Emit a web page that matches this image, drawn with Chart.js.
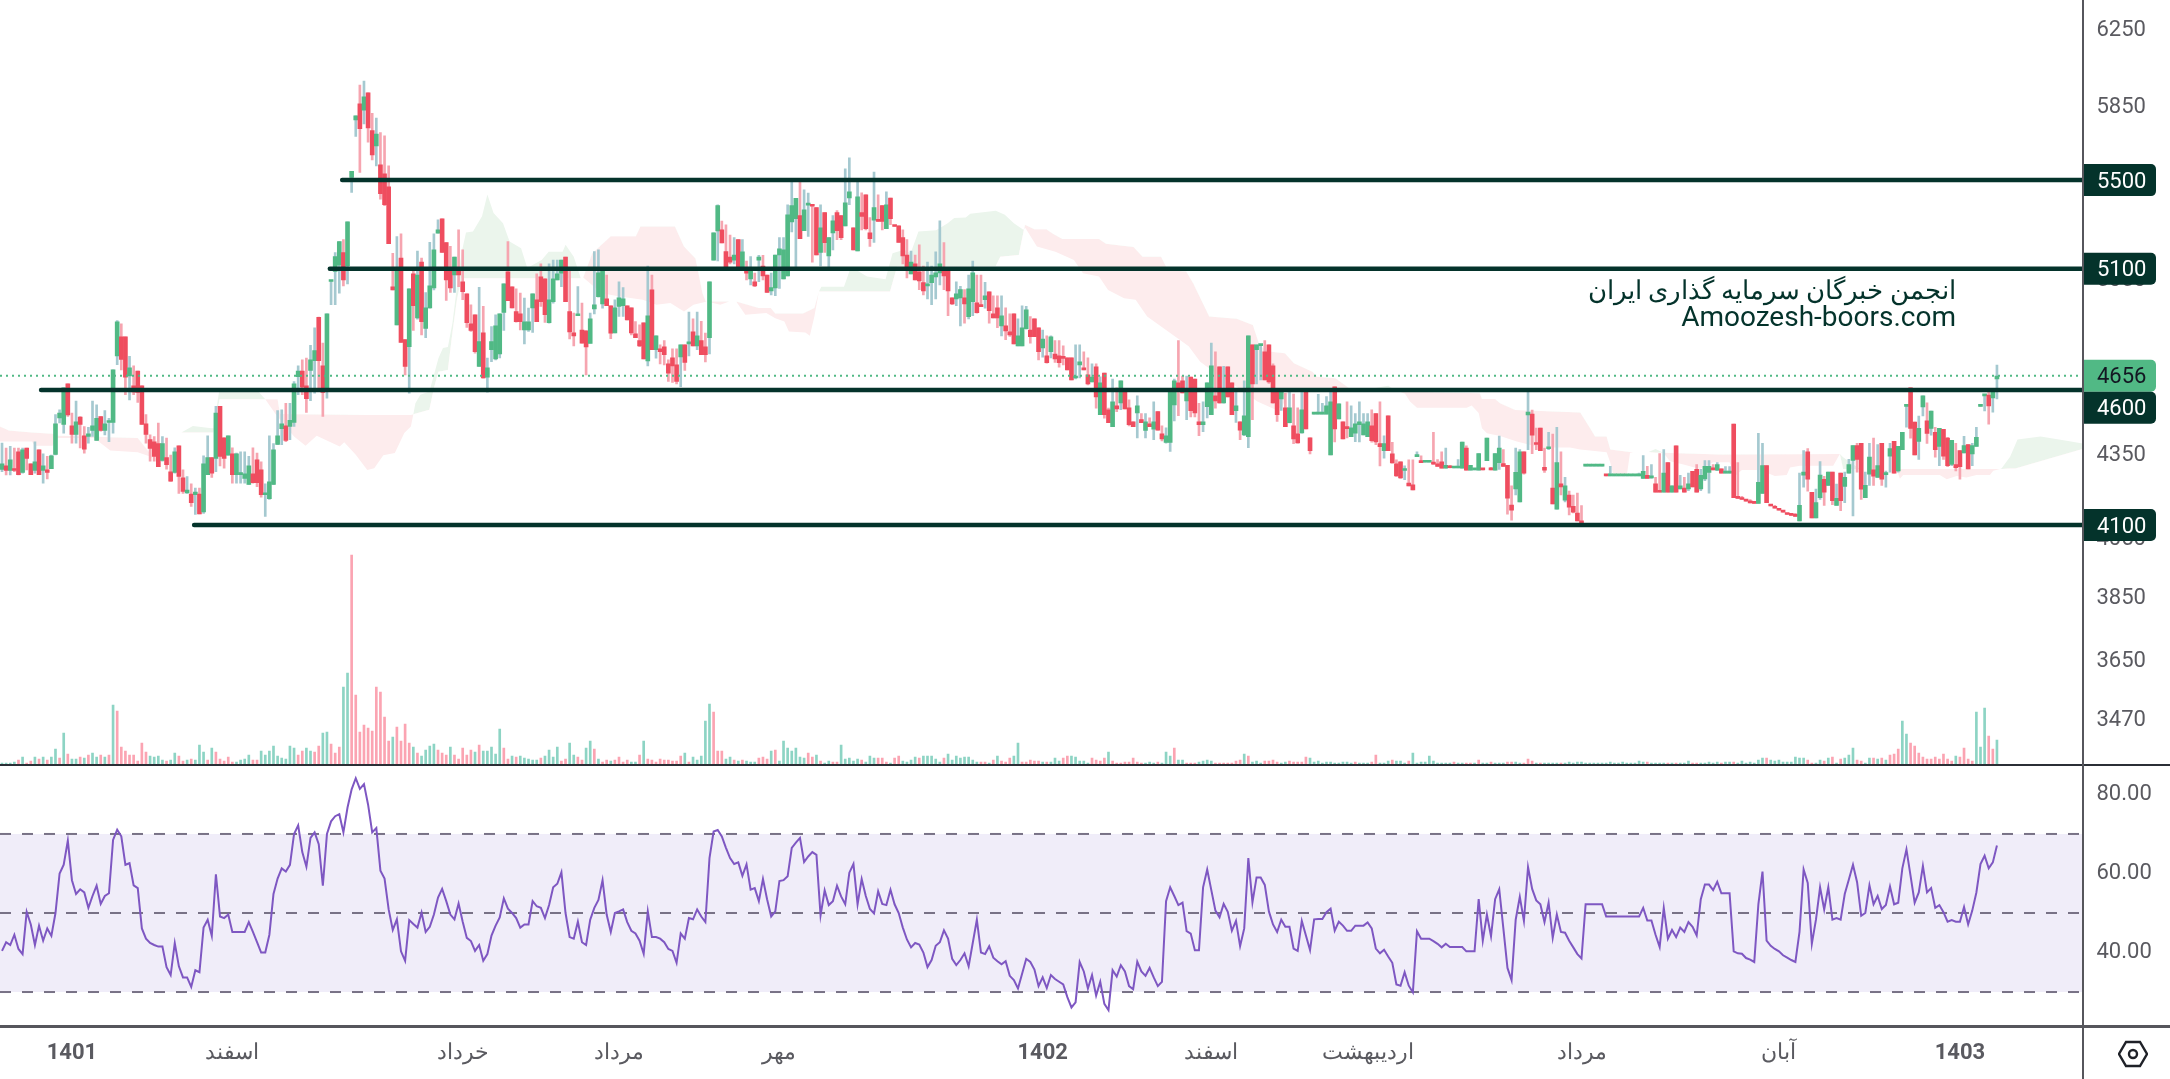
<!DOCTYPE html>
<html>
<head>
<meta charset="utf-8">
<script src="https://cdn.jsdelivr.net/npm/chart.js@4"></script>
<style>
  body { margin: 0; background: #fff; width: 2170px; height: 1079px; overflow: hidden; position: relative; font-family: Roboto, "Noto Sans", sans-serif; }
  canvas { position: absolute; left: 0; }
  .rule { position: absolute; }
  .mark { position: absolute; right: 214px; color: #04332b; white-space: nowrap; }
</style>
</head>
<body>
<canvas id="priceChart" width="2170" height="765" style="top:0"></canvas>
<canvas id="rsiChart" width="2170" height="313" style="top:766px"></canvas>
<div class="rule" style="left:0;top:764px;width:2170px;height:2px;background:#2b2f36"></div>
<div class="rule" style="left:0;top:1025px;width:2170px;height:3px;background:#56565c"></div>
<div class="rule" style="left:2082px;top:0;width:2px;height:1079px;background:#56565c"></div>
<div class="mark" dir="rtl" style="top:272px;font-size:26.4px;line-height:36px">انجمن خبرگان سرمایه گذاری ایران</div>
<div class="mark" style="top:301px;font-size:28px;line-height:32px">Amoozesh-boors.com</div>
<svg style="position:absolute;left:2118px;top:1040px" width="30" height="28" viewBox="0 0 30 28">
  <path d="M8 2 H22 L29 14 L22 26 H8 L1 14 Z" fill="none" stroke="#1f2128" stroke-width="2.4"/>
  <circle cx="15" cy="14" r="4" fill="none" stroke="#1f2128" stroke-width="2.4"/>
</svg>
<script>
const opens = [4299,4312,4295,4297,4364,4288,4378,4319,4295,4371,4295,4297,4302,4354,4492,4467,4624,4461,4429,4495,4424,4421,4444,4406,4497,4444,4474,4474,4735,4813,4813,4655,4616,4674,4616,4469,4409,4401,4394,4332,4342,4290,4288,4386,4268,4214,4209,4207,4209,4146,4280,4342,4339,4536,4416,4351,4356,4280,4280,4266,4244,4283,4334,4297,4207,4193,4244,4391,4451,4461,4459,4474,4652,4674,4616,4677,4716,4893,4695,4606,5045,5089,5116,5171,5112,5513,5789,5869,5838,5925,5737,5662,5572,5530,5469,5022,4862,5147,4801,4773,5078,4891,5129,4847,4933,5018,5257,5322,5215,5095,5073,5095,5044,4992,4866,4904,4693,4829,4650,4760,4723,4743,4914,5087,5022,4917,4908,4841,4841,4933,4967,5065,5056,4871,4959,5052,5081,5151,4917,4829,4900,4841,4837,4786,4929,4980,4950,4971,4942,4829,4939,4942,4942,4933,4825,4797,4871,4715,5009,4760,4764,4772,4703,4727,4699,4731,4780,4784,4833,4776,4797,4772,4809,5138,5267,
5272,5175,5151,5138,5228,5098,5102,5056,5044,5138,5112,5073,5005,5018,5160,5056,5069,5308,5322,5336,5268,5384,5386,5373,5172,5350,5156,5258,5350,5336,5290,5417,5281,5178,5350,5432,5258,5315,5318,5382,5277,5417,5290,5290,5237,5160,5078,5121,5087,5040,5026,5040,5065,5082,5099,5099,4975,4971,4975,4975,4896,4959,4954,4946,4967,5001,4908,4933,4858,4858,4833,4908,4776,4776,4846,4841,4887,4850,4768,4735,4752,4743,4735,4727,4727,4727,4647,4699,4683,4659,4631,4691,4504,4666,4523,4458,4538,4549,4592,4530,4477,4511,4485,4444,4469,4449,4516,4431,4399,4399,4542,4628,4636,4557,4651,4643,4477,4466,4535,4504,4577,4691,4549,4691,4628,4519,4477,4427,4420,4780,4760,4777,4752,4780,4695,4592,4565,4530,4473,4461,4431,4435,4592,4416,4506,4506,4506,4506,4352,4612,4488,4477,4454,4420,4434,4466,4427,4420,4461,4508,4394,4368,4500,4356,4319,4327,4295,4249,4243,
4346,4327,4325,4325,4320,4319,4327,4303,4307,4304,4304,4303,4378,4296,4297,4296,4299,4331,4299,4296,4324,4320,4314,4170,4228,4181,4364,4503,4506,4393,4453,4306,4375,4231,4156,4246,4188,4206,4166,4142,4112,4311,4311,4311,4311,4311,4277,4275,4275,4275,4275,4275,4275,4275,4275,4266,4277,4268,4246,4218,4216,4324,4216,4386,4228,4231,4228,4292,4299,4228,4264,4288,4299,4296,
4301,4285,4285,4468,4196,4193,4186,4182,4179,4176,4212,4313,4169,4161,4154,4147,4139,4136,4132,4114,4278,4364,4216,4125,4197,4263,4241,4289,4169,4285,4237,4285,4332,4387,4395,4197,4281,4297,4270,4395,4280,4348,4403,4293,4372,4536,4608,4476,4403,4534,4480,4452,4437,4384,4448,4415,4317,4317,4368,4360,4391,4356,4384,4536,4577,4580,4569,4643];
const highs = [4396,4378,4384,4378,4378,4378,4378,4319,4401,4371,4356,4347,4352,4504,4523,4608,4624,4510,4556,4497,4459,4456,4556,4542,4497,4520,4490,4679,4880,4866,4813,4733,4695,4674,4616,4504,4427,4421,4472,4421,4415,4352,4379,4386,4297,4273,4246,4231,4231,4349,4424,4342,4536,4536,4416,4424,4379,4359,4364,4364,4347,4379,4359,4327,4246,4424,4394,4520,4523,4548,4548,4633,4695,4719,4726,4778,4850,4894,4787,4908,5047,5171,5219,5228,5308,5541,5809,5964,5984,5925,5822,5798,5727,5711,5567,5168,5242,5254,4801,5014,5095,5177,5147,4998,5216,5254,5317,5322,5215,5198,5151,5272,5183,4992,4946,4904,5020,4939,4726,4855,4904,4908,5035,5219,5022,5014,4995,4974,4932,4992,5078,5121,5056,5121,5138,5138,5138,5151,5095,4911,5023,4953,4837,4911,5175,5183,5095,5073,4942,4967,5044,5019,4942,4933,4876,4862,4871,5112,5073,4817,4780,4797,4719,4764,4764,4780,4780,4915,4887,4915,4877,4828,5044,5258,5386,
5311,5295,5249,5237,5228,5228,5134,5153,5081,5159,5159,5073,5081,5160,5237,5237,5386,5500,5415,5491,5455,5440,5386,5373,5386,5350,5237,5336,5359,5336,5553,5605,5281,5491,5441,5432,5327,5538,5432,5382,5446,5417,5290,5290,5272,5228,5177,5160,5205,5112,5129,5112,5174,5313,5215,5091,4975,5044,5024,5010,5073,5134,5073,5073,5041,5001,4984,4984,4984,4933,4908,4908,4887,4942,4939,4896,4887,4850,4841,4817,4817,4797,4797,4776,4727,4727,4780,4780,4752,4727,4703,4703,4652,4666,4529,4643,4608,4636,4592,4561,4477,4577,4508,4508,4492,4554,4516,4461,4454,4600,4643,4797,4655,4655,4651,4643,4548,4554,4628,4787,4752,4691,4693,4691,4628,4600,4477,4636,4817,4780,4780,4780,4797,4780,4703,4600,4600,4587,4600,4584,4530,4600,4600,4416,4508,4583,4548,4574,4600,4612,4546,4477,4554,4538,4508,4554,4508,4508,4523,4508,4554,4424,4500,4399,4334,4327,4312,4334,4334,
4364,4349,4327,4327,4437,4335,4364,4378,4314,4306,4335,4400,4386,4314,4299,4357,4299,4415,4306,4357,4423,4372,4314,4239,4378,4372,4364,4600,4522,4453,4453,4378,4437,4430,4456,4364,4270,4220,4206,4213,4168,4313,4313,4313,4313,4313,4277,4310,4277,4277,4277,4277,4277,4277,4285,4350,4310,4317,4270,4357,4372,4324,4239,4386,4277,4270,4285,4292,4317,4299,4331,4331,4317,4324,
4301,4309,4309,4468,4324,4201,4190,4190,4179,4433,4395,4313,4169,4169,4154,4147,4139,4136,4141,4285,4368,4376,4216,4227,4328,4274,4289,4289,4245,4285,4289,4336,4387,4395,4395,4289,4395,4415,4391,4395,4293,4395,4403,4384,4437,4538,4608,4476,4499,4577,4550,4518,4456,4452,4448,4418,4407,4395,4368,4422,4391,4395,4456,4538,4579,4600,4596,4698];
const lows = [4291,4279,4279,4291,4279,4285,4297,4280,4285,4280,4249,4264,4302,4352,4472,4434,4497,4396,4396,4378,4359,4396,4421,4406,4441,4427,4402,4434,4700,4679,4581,4561,4581,4551,4467,4396,4329,4329,4312,4329,4300,4255,4285,4212,4212,4212,4165,4137,4139,4141,4291,4270,4291,4312,4303,4351,4249,4249,4249,4249,4243,4249,4236,4198,4130,4190,4243,4390,4390,4402,4409,4459,4581,4581,4513,4558,4587,4600,4497,4568,4946,4946,4995,5026,5035,5443,5708,5536,5770,5681,5595,5567,5412,5382,5210,5009,4862,4790,4659,4587,4839,4886,4821,4809,4932,5009,5257,5171,4964,4998,4998,5023,4967,4851,4835,4746,4693,4646,4591,4712,4719,4727,4839,4963,4933,4873,4841,4784,4835,4831,4875,4939,4872,4869,4953,5052,5023,4959,4804,4776,4900,4787,4659,4787,4908,4978,4932,4942,4805,4829,4897,4897,4883,4821,4809,4773,4723,4695,4760,4726,4703,4699,4633,4629,4624,4613,4677,4735,4776,4760,4740,4711,4743,5138,5134,
5213,5109,5121,5121,5095,5095,5052,5030,5023,5044,5052,4998,4988,4984,5015,5056,5069,5263,5100,5232,5268,5243,5129,5160,5112,5172,5103,5183,5228,5228,5290,5386,5183,5178,5272,5272,5198,5216,5310,5272,5277,5295,5287,5216,5121,5060,5078,5052,5010,4988,4971,4946,4971,5030,5010,4900,4946,4942,4858,4869,4887,4900,4911,4938,4932,4869,4891,4850,4817,4801,4814,4784,4776,4776,4844,4787,4813,4719,4730,4706,4727,4709,4690,4699,4679,4639,4643,4647,4679,4620,4631,4529,4504,4491,4473,4458,4516,4523,4526,4461,4458,4416,4473,4416,4458,4409,4445,4404,4396,4365,4480,4500,4588,4485,4495,4495,4424,4439,4492,4504,4529,4548,4548,4573,4504,4474,4409,4424,4379,4485,4624,4639,4639,4626,4548,4478,4520,4459,4472,4394,4396,4434,4450,4356,4506,4506,4506,4506,4352,4401,4488,4412,4416,4420,4402,4401,4427,4420,4400,4390,4312,4340,4368,4322,4273,4266,4261,4239,4224,
4346,4324,4325,4325,4317,4310,4303,4303,4304,4304,4304,4303,4296,4296,4297,4296,4297,4331,4297,4296,4299,4310,4138,4117,4206,4181,4281,4372,4357,4372,4368,4288,4372,4174,4156,4206,4181,4135,4142,4114,4108,4311,4311,4311,4311,4311,4275,4275,4275,4275,4275,4275,4275,4275,4275,4266,4266,4266,4216,4216,4216,4216,4216,4216,4228,4216,4222,4235,4216,4222,4258,4213,4297,4294,
4285,4285,4285,4197,4194,4190,4184,4178,4176,4176,4212,4179,4167,4159,4152,4145,4137,4134,4130,4114,4234,4220,4125,4125,4190,4169,4241,4172,4169,4150,4179,4285,4132,4289,4190,4197,4241,4241,4270,4241,4234,4289,4285,4289,4372,4456,4415,4352,4336,4499,4395,4426,4344,4313,4336,4309,4313,4293,4263,4360,4301,4313,4384,4536,4518,4468,4514,4565];
const closes = [4319,4295,4334,4295,4280,4371,4339,4280,4327,4280,4312,4288,4349,4469,4510,4608,4503,4429,4477,4467,4374,4431,4461,4490,4444,4469,4479,4679,4875,4721,4650,4687,4592,4590,4467,4429,4376,4347,4309,4394,4316,4256,4364,4273,4219,4224,4179,4217,4139,4319,4342,4285,4510,4347,4339,4424,4280,4356,4283,4283,4312,4251,4251,4207,4209,4254,4371,4424,4469,4406,4482,4624,4674,4611,4566,4719,4757,4716,4590,4908,5047,5153,5219,5052,5308,5541,5809,5747,5905,5750,5619,5720,5437,5386,5210,5009,5095,4790,4693,5014,4942,5073,4875,4933,5026,5183,5272,5171,5052,5018,5151,5073,5001,4871,4839,4752,4793,4647,4687,4793,4858,4908,5035,4963,4933,4875,4875,4875,4875,4992,4875,4959,4904,4967,5056,5078,5138,4959,4833,4817,4904,4787,4772,4887,4946,5082,5095,4942,4828,4933,4975,4971,4883,4829,4809,4776,4723,4900,4760,4817,4752,4740,4666,4695,4633,4780,4709,4787,4776,4817,4740,4740,5044,5258,5382,
5213,5109,5129,5160,5106,5174,5081,5091,5026,5151,5069,4998,5019,5160,5187,5183,5340,5382,5415,5232,5363,5386,5379,5160,5281,5215,5237,5313,5268,5237,5395,5446,5183,5422,5332,5277,5232,5373,5310,5310,5386,5322,5287,5216,5156,5108,5129,5052,5048,5005,5029,5073,5082,5121,5069,5005,4950,4992,5010,4950,5014,5082,4913,4938,4984,4921,4891,4891,4900,4837,4821,4784,4817,4850,4925,4813,4813,4752,4804,4708,4813,4723,4708,4725,4679,4639,4651,4711,4679,4624,4651,4573,4628,4504,4473,4554,4526,4636,4526,4466,4458,4538,4473,4477,4458,4477,4445,4412,4424,4600,4636,4608,4588,4600,4519,4511,4466,4477,4628,4695,4557,4549,4600,4573,4504,4538,4445,4500,4817,4624,4780,4780,4639,4631,4549,4504,4592,4458,4530,4412,4397,4523,4450,4368,4508,4508,4508,4538,4554,4450,4546,4412,4451,4454,4469,4477,4469,4477,4405,4401,4383,4394,4368,4323,4275,4268,4297,4239,4224,
4350,4324,4327,4327,4318,4310,4303,4314,4305,4306,4306,4400,4296,4314,4299,4357,4297,4415,4297,4357,4378,4310,4195,4152,4288,4364,4285,4514,4426,4391,4368,4296,4377,4174,4324,4235,4239,4163,4145,4114,4108,4313,4313,4313,4313,4313,4275,4277,4277,4277,4277,4277,4277,4277,4277,4292,4266,4270,4216,4216,4285,4216,4239,4216,4239,4216,4246,4235,4216,4277,4310,4310,4297,4317,
4285,4287,4287,4197,4194,4190,4184,4178,4176,4252,4313,4179,4167,4159,4152,4145,4137,4134,4130,4169,4289,4263,4125,4179,4278,4216,4289,4186,4194,4186,4270,4317,4387,4336,4227,4241,4344,4274,4313,4263,4282,4376,4285,4384,4437,4538,4452,4352,4452,4577,4433,4518,4372,4452,4348,4313,4407,4305,4309,4387,4301,4387,4418,4538,4579,4538,4596,4655];
const volumes = [2,2,2,3,-5,8,-2,-4,8,-6,8,-5,8,16,-7,32,-11,6,6,-8,7,-10,12,8,-10,8,-10,60,-54,-18,-14,-10,-10,-4,-22,-13,9,8,9,5,-4,5,12,-9,-4,5,-6,5,20,13,-5,17,-13,-6,-4,-8,-3,3,5,6,10,-5,-5,14,10,14,19,9,7,6,19,17,-10,-14,17,14,-13,-19,32,33,-21,-12,-18,78,92,-210,-70,-33,-40,-37,-34,-78,-73,-48,-24,28,-38,-24,-41,-22,18,-12,9,15,19,21,-15,-12,-10,18,-10,-6,-17,-10,-15,13,-20,14,14,18,11,
36,-17,-6,9,-8,9,7,6,5,5,-7,9,15,8,18,-4,-6,22,10,-8,-5,17,24,-16,6,-3,-5,4,-5,-8,-3,-5,3,3,-10,24,-6,-5,-3,-6,-5,-5,-4,-4,-9,12,-3,8,5,9,44,61,-53,
-14,-14,6,8,-5,4,-5,4,3,3,-7,-8,-6,14,-15,4,24,17,14,17,8,7,-12,-8,10,-4,2,4,-3,-3,20,6,7,4,6,-5,3,9,7,-7,-7,-3,2,-7,-9,4,3,5,8,-7,9,9,9,6,3,-7,11,5,9,7,8,8,5,3,-3,-3,2,-5,9,-4,-3,-7,9,22,-3,-3,-5,-4,-4,3,-3,3,7,4,-7,-9,9,8,4,4,2,-7,-5,-4,-7,13,-4,-2,-2,-3,-3,-7,-3,-2,2,3,2,-3,2,13,9,-17,5,5,-2,-2,-2,3,4,5,4,-2,-2,-2,-2,-2,-4,-5,11,-9,3,4,2,-4,-4,-5,-3,2,3,-4,-3,-3,-3,-8,7,3,4,2,3,3,2,2,3,3,2,-3,2,2,2,-3,-10,2,2,4,-5,4,4,2,-4,12,2,3,3,9,4,
2,2,2,2,-3,2,2,-2,-2,2,-5,2,2,-3,2,2,
2,-3,-3,3,2,-2,-6,-4,2,-2,2,2,2,2,-2,2,3,2,3,3,2,2,2,2,2,2,3,2,2,3,2,2,2,4,3,-3,2,2,2,2,-2,2,-2,2,2,4,-2,-2,2,2,3,2,3,-2,3,3,-3,2,4,2,3,2,5,7,-7,5,4,5,3,3,3,8,7,7,-5,-2,2,5,-4,7,-8,2,-6,7,10,17,-5,-4,2,7,-7,6,-7,5,-10,-11,-16,44,31,-22,-19,-12,-8,-6,-6,-8,-6,-11,-6,-4,9,-8,-17,-6,-4,53,18,57,-29,-16,25];
const rsi = [40.4,42.6,41.9,44.5,40.9,39.6,50.3,47.1,41.9,46.8,43,46.1,44.2,50,60,62.2,68.3,58.3,54.8,56,55.2,51.3,54.3,56.9,52.3,54.3,55,68.5,71.1,69.4,62.2,62.6,57,56.3,46.1,43.5,42.4,41.9,41.5,41.5,36.3,34.3,42.4,36.5,33.7,33.7,31.3,35.5,35,46.3,48.3,44.2,59.8,49.1,48.7,49.6,45.2,45.2,45.2,45.2,47.7,45.2,42.6,40,40,44.5,54.8,58.7,61.3,60.5,62.2,70,72.2,65.4,61.7,69,70.4,67.4,56.9,70,73.2,74.5,75,70.4,76.7,81.3,84.1,81.4,82.6,77.4,70.4,71.5,60.7,58.7,50.9,45.7,48.4,40.3,37.9,48.2,47.2,46.3,50.1,45.2,46.5,49.6,53.9,56.1,53,49.6,48.4,52.4,47.8,43.7,42.9,40.4,41.9,37.9,39.6,44.3,46.8,48.9,53.7,51.1,50,48.7,46.3,47.1,47.1,53,51.7,51.3,48.7,52,56.5,57.4,60.3,50,43.9,43.5,47.8,42.6,41.9,48.3,51.3,53.3,58.3,49.6,45.2,50,50.4,50.9,47.7,45.5,44.8,43,39.7,50.4,43.9,43.9,43.5,42.6,40.9,40.4,37.4,44.8,43.5,48.7,48.4,50.9,49.1,47.7,63.9,70.6,71,
69.4,66.5,63.9,62.4,62.8,59.4,62.3,55.9,56.3,53,58.6,53.5,49.1,50.4,58.1,58.3,59.3,66.5,67.8,69,62.9,64.3,65.4,64.7,49.4,55.7,52,53,56.9,54.2,52.2,60.2,62.4,52.2,58.6,54.3,51,49.9,55.5,52.3,52,55.9,52.2,50,46.3,43.3,41.3,42.4,42,40,36.3,38.1,41.7,42.6,45.6,43.5,38.4,36.8,38.1,39.8,36.5,42.4,48.3,40,39.6,41.6,38.7,37.8,37,37.8,34.1,33,30.9,34.6,38.4,37.6,35.7,31.5,33.7,31,34.3,33.3,32.6,31.9,28.7,26.1,27.4,37.6,35.2,30.9,34.3,29.1,32.6,27,25.4,35.5,33.9,36.8,35.2,31.5,30.7,37.7,35.2,34.1,36.1,33.7,31.5,32.6,53,56.5,54.3,52,52.6,45.4,44.8,40.6,40.6,56.5,61,55.8,50.6,48.9,52.3,50.3,45.5,48,41.6,46.1,63.9,52.7,59,59,57.1,50.4,47.1,45.2,48.3,46.5,46.5,41,40.4,48,44.3,40.6,48.4,48.5,48.5,50.2,51.1,45.5,47.8,46.8,45.5,45.5,46.8,46.8,46.8,47.6,46.1,41,39.8,40.7,39,37.4,31.9,31.6,35,31.6,29.9,45.4,43.5,43.5,43.5,42.9,42.2,
41.3,42.2,41.4,41.4,41.4,41.4,40.3,40.3,40.3,53.5,43,49.6,44.1,53.5,56,46.1,36.1,33,48.3,54.1,48,61.6,56.1,53.2,52.2,47.7,52.6,43.7,49.6,45.2,45,43,41.3,39.6,38.5,52.2,52.2,52.2,52.2,52.2,49.1,49.1,49.1,49.1,49.1,49.1,49.1,49.1,49.1,51.3,48.1,48.1,44.5,41.4,51.3,43.5,45.7,43.9,46.3,45.2,47.7,46.5,44.3,53.5,57.2,57.2,55.8,57.9,55,55,55,40.3,39.8,39.7,38.6,38.2,37.6,52.2,60.5,43,41.7,40.9,40.3,39.3,38.7,38.1,37.6,45.2,61,57.6,42.2,48.3,56.5,50.9,56.5,48.3,48.7,48.3,54.8,58.5,62.2,57.8,49.3,50,57,52.2,54.3,51,52,56.7,52.2,52.6,61.3,66.1,59.4,52.6,55.2,61.9,55.2,56.3,51.3,52,50.2,47.8,48.2,47.8,47.8,51.5,47.1,50.6,55.2,62.4,64.5,61.3,62.8,67.1];

// ichimoku cloud, knots are bar positions
const spanAx = [-0.5,1.7,7.3,7.9,12.3,13.5,22.4,26.3,33,35.8,36.6,43.6,46.4,50.9,51.4,52.9,62,64,66.5,71,73.8,76.5,82.1,83.2,86,88.8,90.5,92.7,95.5,97.8,99.4,100,100.5,101.7,103.9,105,106.1,107.2,108.4,109.5,110.6,111.7,112.8,114.5,116.7,118,119.5,121.8,123.4,126.2,127.7,131.2,132.9,136.3,137,139,140.7,141.3,145.8,150.2,155.8,159.1,162.5,165.8,168.1,171.4,174.6,176.8,178.5,180.7,185.8,188,190.2,191.3,195.3,196.4,197.5,198.6,199.2,204.7,206.4,210.3,214.8,216.5,219.3,220.9,222.8,227.1,229.9,231.5,234.3,235.4,241.6,243.8,246,248.3,248.8,251.6,256.1,260.6,262.8,266.7,268.9,272.8,275.6,278.4,284.6,288.5,291.3,294.6,300.7,305.2,309.7,311.3,313,328.1,330.9,337,338.7,341.1,342.3,344,356.1,357.3,359,359.8,361,364.2,368.3,374,381.2,383.7,390.1,391,391.8,395,395.8,396.6,400.3,402,403.9,405.5,408.8,412.8,416,420,421.3,423,427.4,431,433.9,434.7,437.1,445.2,446.8,447.6,451.7,460.6,461.4,462.2,471.1,472.8,475.2,477.6,480,483.3,484.1,485.7,486.1,488.2,490,495.6,502.3,505.8];
const spanA = [4402,4402,4402,4386,4386,4415,4415,4369,4362,4347,4340,4436,4461,4452,4452,4607,4600,4564,4507,4421,4386,4424,4384,4399,4353,4297,4303,4351,4359,4434,4459,4506,4548,4581,4594,4659,4726,4767,4771,4869,5023,5168,5260,5265,5333,5433,5348,5302,5220,5190,5103,5138,5175,5175,5205,5153,5059,5062,4995,4981,4967,4946,4953,4918,4946,4960,4946,4960,4960,4904,4911,4890,4876,4835,4831,4817,4897,5002,5023,5023,5109,5066,5055,5168,5183,5168,5265,5270,5302,5325,5328,5345,5358,5340,5302,5272,5280,5198,5175,5138,5081,5066,5009,4974,4967,4897,4821,4774,4712,4672,4607,4555,4523,4536,4600,4600,4600,4616,4600,4585,4555,4531,4531,4539,4510,4452,4433,4423,4402,4380,4380,4372,4362,4324,4276,4276,4360,4363,4363,4374,4360,4329,4317,4300,4325,4325,4275,4297,4297,4275,4278,4306,4312,4312,4356,4344,4300,4300,4265,4278,4278,4263,4275,4269,4278,4278,4294,4300,4302,4345,4410,4421,4404,4395];
const spanBx = [-0.5,1.7,7.3,12.3,13.5,22.4,26.3,33,35.8,36.6,43.6,46.4,51.4,52.9,62,64,66.5,67,67.6,88.8,99.4,100,103.9,105,106.1,108.4,109.5,110.6,111.7,140.7,141.3,143.5,148,154.1,155.2,163.6,165.8,168.6,170.3,171.1,174.6,178.5,184,186.9,188,194.7,197.5,198.6,199.2,215.9,217.6,241.6,242.7,247.2,248.7,251,253.9,255.5,257.8,266.7,268.4,275.1,277.3,281.8,283.4,287.9,289.6,293.5,300.2,304.1,305.8,308.6,311.9,314.1,318.6,319.7,324.2,328.1,330.9,338.7,341.1,359.3,359.8,363,364.2,367.9,383.7,386.1,387.3,390.1,391,395.8,400.3,402,403.9,417.7,446.8,447.6,460.6,485.7,486.1,488,489.5,505.8];
const spanB = [4459,4444,4436,4431,4424,4421,4418,4415,4362,4340,4436,4436,4436,4564,4564,4564,4564,4564,4507,4503,4503,4506,4523,4607,4672,4679,4828,4967,5059,5059,5062,5168,5243,5243,5287,5287,5198,5145,4995,4960,4960,4960,4932,4932,4909,4909,4932,5002,5002,5002,5109,5112,5153,5160,5295,5275,5275,5254,5231,5231,5210,5195,5153,5153,5095,5088,5038,4897,4887,4862,4774,4752,4746,4706,4672,4652,4646,4600,4600,4600,4594,4587,4565,4565,4548,4522,4512,4452,4421,4421,4372,4363,4363,4360,4360,4354,4356,4300,4300,4300,4300,4302,4302,4374,4374];

const levels = [5500,5100,4600,4100];
const levelStarts = [82.7,79.7,9.5,46.7];
const lastPrice = 4656;
const priceTicks = [6250,5850,5450,5050,4650,4350,4050,3850,3650,3470];
const rsiTicks = [80,60,40];
const rsiBands = [70,50,30];
const timeTicks = [17,56,112,150,189,253,294,332,384,432,476];
const timeLabels = ['1401','اسفند','خرداد','مرداد','مهر','1402','اسفند','اردیبهشت','مرداد','آبان','1403'];
const priceBoxes = [5500,5100,4656,4600,4100];

const xMin = -0.49, xMax = 505.8;
const upBody = '#51b985', downBody = '#ef4d5f';
const upWick = '#a5c9d0', downWick = '#f6a5b0';
const dark = '#04332b', axisText = '#5a5a60';

Chart.defaults.font.family = 'Roboto, "Noto Sans", sans-serif';
Chart.defaults.font.size = 22;

// keep the plot flush with the pane, labels may overflow
function fitAxis(scale) {
    scale.width = 2170 - 2082.5;
    scale.paddingTop = 0;
    scale.paddingBottom = 0;
}

const boxPlugin = {
    id: 'priceBoxes',
    afterDraw(chart) {
        const ctx = chart.ctx, y = chart.scales.y;
        let lastBottom = -100;
        ctx.save();
        ctx.font = '22px Roboto';
        ctx.textBaseline = 'middle';
        priceBoxes.forEach(v => {
            let top = y.getPixelForValue(v) - 16;
            if (top < lastBottom) top = lastBottom;
            lastBottom = top + 32;
            const isLast = v === lastPrice;
            ctx.fillStyle = isLast ? upBody : dark;
            ctx.beginPath();
            ctx.roundRect(2083, top, 73, 32, [0, 5, 5, 0]);
            ctx.fill();
            ctx.fillStyle = isLast ? '#131722' : '#fff';
            ctx.fillText(String(v), 2097, top + 18);
        });
        ctx.restore();
    }
};

const levelSets = levels.map((v, i) => ({
    type: 'line',
    data: [{ x: levelStarts[i], y: v }, { x: xMax, y: v }],
    borderColor: dark, borderWidth: 4.5, borderCapStyle: 'round',
    pointRadius: 0, order: 0, yAxisID: 'y'
}));

new Chart(document.getElementById('priceChart'), {
    data: {
        datasets: [
            {
                type: 'line',
                data: spanAx.map((x, i) => ({ x: x, y: spanA[i] })),
                borderWidth: 0, borderColor: 'transparent', pointRadius: 0,
                fill: { target: '+1', above: '#ebf5ec', below: '#fdeced' },
                order: 5, yAxisID: 'y'
            },
            {
                type: 'line',
                data: spanBx.map((x, i) => ({ x: x, y: spanB[i] })),
                borderWidth: 0, borderColor: 'transparent', pointRadius: 0,
                order: 5, yAxisID: 'y'
            },
            {
                type: 'bar',
                data: volumes.map((v, i) => ({ x: i, y: Math.abs(v) })),
                backgroundColor: volumes.map(v => v >= 0 ? '#8dd4c4' : '#fba4b2'),
                barThickness: 2, grouped: false, order: 6, yAxisID: 'vol'
            },
            {
                type: 'bar',
                data: lows.map((l, i) => ({ x: i, y: [l, highs[i]] })),
                backgroundColor: opens.map((o, i) => closes[i] >= o ? upWick : downWick),
                barThickness: 2, grouped: false, order: 4, yAxisID: 'y'
            },
            {
                type: 'bar',
                data: opens.map((o, i) => ({ x: i, y: [o, closes[i]] })),
                backgroundColor: opens.map((o, i) => closes[i] >= o ? upBody : downBody),
                barThickness: 4, grouped: false, minBarLength: 2, order: 3, yAxisID: 'y'
            },
            {
                type: 'line',
                data: [{ x: xMin, y: lastPrice }, { x: xMax, y: lastPrice }],
                borderColor: upBody, borderWidth: 2, borderDash: [2, 4],
                pointRadius: 0, order: 2, yAxisID: 'y'
            },
            ...levelSets
        ]
    },
    options: {
        responsive: false,
        animation: false,
        layout: { padding: 0, autoPadding: false },
        plugins: { legend: { display: false }, tooltip: { enabled: false } },
        scales: {
            x: { type: 'linear', min: xMin, max: xMax, offset: false, display: false },
            y: {
                type: 'logarithmic', position: 'right', min: 3342, max: 6412, offset: false,
                grid: { display: false }, border: { display: false },
                afterBuildTicks: s => { s.ticks = priceTicks.map(v => ({ value: v })); },
                afterFit: fitAxis,
                ticks: {
                    color: axisText, padding: 6, autoSkip: false,
                    callback: v => String(v)
                }
            },
            vol: { type: 'linear', display: false, min: 0, max: 765, offset: false }
        }
    },
    plugins: [boxPlugin]
});

new Chart(document.getElementById('rsiChart'), {
    data: {
        datasets: [
            {
                type: 'line',
                data: [{ x: xMin, y: 70 }, { x: xMax, y: 70 }],
                borderWidth: 0, pointRadius: 0, order: 5,
                fill: { target: { value: 30 }, above: '#f0edf9' }
            },
            ...rsiBands.map(v => ({
                type: 'line',
                data: [{ x: xMin, y: v }, { x: xMax, y: v }],
                borderColor: '#787286', borderWidth: 2, borderDash: [11, 11],
                pointRadius: 0, order: 3
            })),
            {
                type: 'line',
                data: rsi.map((v, i) => ({ x: i, y: v })),
                borderColor: '#7e57c2', borderWidth: 2, pointRadius: 0, tension: 0, order: 1
            }
        ]
    },
    options: {
        responsive: false,
        animation: false,
        layout: { padding: 0, autoPadding: false },
        plugins: { legend: { display: false }, tooltip: { enabled: false } },
        scales: {
            x: {
                type: 'linear', min: xMin, max: xMax, offset: false,
                grid: { display: false }, border: { display: false },
                afterBuildTicks: s => { s.ticks = timeTicks.map(v => ({ value: v })); },
                afterFit: s => { s.height = 53; },
                ticks: {
                    color: axisText, padding: 6, autoSkip: false, maxRotation: 0,
                    font: c => ({ size: 22, weight: c.tick && /^\d/.test(c.tick.label) ? 'bold' : 'normal' }),
                    callback: (v, i) => timeLabels[i]
                }
            },
            y: {
                type: 'linear', position: 'right', min: 21.4, max: 87.2,
                grid: { display: false }, border: { display: false },
                afterBuildTicks: s => { s.ticks = rsiTicks.map(v => ({ value: v })); },
                afterFit: fitAxis,
                ticks: { color: axisText, padding: 6, autoSkip: false, callback: v => v.toFixed(2) }
            }
        }
    }
});
</script>
</body>
</html>
